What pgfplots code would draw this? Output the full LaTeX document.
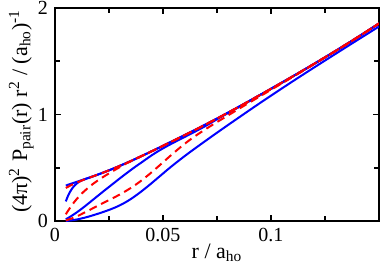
\documentclass[border=0pt]{standalone}
\usepackage{fontspec}
\setmainfont{Liberation Serif}
\usepackage{pgfplots}
\pgfplotsset{compat=1.18}
\definecolor{pblue}{RGB}{0,0,255}
\definecolor{pred}{RGB}{255,0,0}
\begin{document}
\begin{tikzpicture}
\begin{axis}[
  scale only axis, width=162pt, height=106.5pt,
  xmin=0, xmax=0.15, ymin=0, ymax=2,
  xtick={0,0.05,0.1}, xticklabels={0,0.05,0.1},
  minor xtick={0.025,0.075,0.125},
  ytick={0,1,2}, yticklabels={0,1,2},
  minor ytick={0.5,1.5},
  tick align=inside,
  major tick length=3pt, minor tick length=2.5pt,
  axis line style={line width=1pt},
  every tick/.style={line width=0.8pt, black},
  tick label style={font=\fontsize{10}{12}\selectfont},
  label style={font=\fontsize{11}{13}\selectfont},
  xlabel={r / a\textsubscript{ho}},
  xlabel style={at={(axis description cs:0.5,-0.1737)}, anchor=base},
  ylabel={(4π)\textsuperscript{2} P\textsubscript{pair}(r) r\textsuperscript{2} / (a\textsubscript{ho})\textsuperscript{-1}},
  ylabel style={at={(axis description cs:-0.0864,0.516)}, anchor=base, rotate=0},
  every axis plot/.append style={line width=1pt},
]
% blue solid curves
\addplot[pblue, smooth] coordinates {(0.005,0.333) (0.010,0.367) (0.015,0.401) (0.020,0.437) (0.025,0.476) (0.030,0.518) (0.035,0.562) (0.040,0.609) (0.045,0.657) (0.050,0.706) (0.055,0.756) (0.060,0.806) (0.065,0.857) (0.070,0.909) (0.075,0.962) (0.080,1.016) (0.085,1.071) (0.090,1.127) (0.095,1.184) (0.100,1.241) (0.110,1.357) (0.120,1.476) (0.130,1.598) (0.140,1.724) (0.150,1.855)};
\addplot[pblue, smooth] coordinates {(0.005,0.184) (0.006,0.235) (0.007,0.275) (0.008,0.307) (0.009,0.332) (0.010,0.351) (0.011,0.366) (0.012,0.378) (0.013,0.387) (0.015,0.401) (0.020,0.437) (0.025,0.476) (0.030,0.518) (0.035,0.562) (0.040,0.609) (0.045,0.657) (0.050,0.706) (0.055,0.756) (0.060,0.806) (0.065,0.857) (0.070,0.909) (0.075,0.962) (0.080,1.016) (0.085,1.071) (0.090,1.127) (0.095,1.184) (0.100,1.241) (0.110,1.357) (0.120,1.476) (0.130,1.598) (0.140,1.724) (0.150,1.855)};
\addplot[pblue, smooth] coordinates {(0.005,0.016) (0.0075,0.046) (0.010,0.080) (0.0125,0.117) (0.015,0.157) (0.0175,0.198) (0.020,0.239) (0.0225,0.280) (0.025,0.320) (0.0275,0.360) (0.030,0.400) (0.0325,0.439) (0.035,0.477) (0.0375,0.514) (0.040,0.549) (0.0425,0.585) (0.045,0.620) (0.0475,0.652) (0.050,0.682) (0.0525,0.710) (0.055,0.737) (0.0575,0.763) (0.060,0.789) (0.065,0.841) (0.070,0.896) (0.075,0.955) (0.080,1.013) (0.085,1.069) (0.090,1.127) (0.095,1.184) (0.100,1.241) (0.110,1.357) (0.120,1.476) (0.130,1.598) (0.140,1.724) (0.150,1.855)};
\addplot[pblue, smooth] coordinates {(0.005,0.000) (0.0075,0.006) (0.010,0.014) (0.0125,0.025) (0.015,0.038) (0.0175,0.053) (0.020,0.069) (0.0225,0.086) (0.025,0.104) (0.0275,0.124) (0.030,0.147) (0.0325,0.174) (0.035,0.205) (0.0375,0.240) (0.040,0.278) (0.0425,0.318) (0.045,0.360) (0.0475,0.403) (0.050,0.446) (0.0525,0.489) (0.055,0.530) (0.0575,0.570) (0.060,0.609) (0.0625,0.647) (0.065,0.684) (0.070,0.757) (0.075,0.829) (0.080,0.900) (0.085,0.970) (0.090,1.040) (0.095,1.109) (0.100,1.177) (0.110,1.311) (0.120,1.442) (0.130,1.571) (0.140,1.699) (0.150,1.826)};
% red dashed curves
\addplot[pred, smooth, dash pattern=on 4pt off 2.5pt] coordinates {(0.005,0.310) (0.0075,0.337) (0.010,0.359) (0.0125,0.381) (0.015,0.400) (0.020,0.437) (0.025,0.476) (0.030,0.518) (0.035,0.562) (0.040,0.609) (0.045,0.657) (0.050,0.706) (0.055,0.756) (0.060,0.806) (0.065,0.857) (0.070,0.909) (0.075,0.962) (0.080,1.016) (0.085,1.071) (0.090,1.127) (0.095,1.184) (0.100,1.241) (0.110,1.357) (0.120,1.476) (0.130,1.598) (0.140,1.724) (0.150,1.855)};
\addplot[pred, smooth, dash pattern=on 4pt off 2.5pt] coordinates {(0.005,0.063) (0.0075,0.140) (0.010,0.205) (0.0125,0.260) (0.015,0.306) (0.0175,0.347) (0.020,0.383) (0.0225,0.416) (0.025,0.447) (0.0275,0.477) (0.030,0.506) (0.0325,0.535) (0.035,0.560) (0.0375,0.585) (0.040,0.609) (0.045,0.657) (0.050,0.706) (0.055,0.756) (0.060,0.806) (0.065,0.857) (0.070,0.909) (0.075,0.962) (0.080,1.016) (0.085,1.071) (0.090,1.127) (0.095,1.184) (0.100,1.241) (0.110,1.357) (0.120,1.476) (0.130,1.598) (0.140,1.724) (0.150,1.855)};
\addplot[pred, smooth, dash pattern=on 4pt off 2.5pt] coordinates {(0.005,0.006) (0.0075,0.022) (0.010,0.042) (0.0125,0.067) (0.015,0.093) (0.0175,0.119) (0.020,0.145) (0.0225,0.171) (0.025,0.197) (0.0275,0.222) (0.030,0.249) (0.0325,0.278) (0.035,0.309) (0.0375,0.343) (0.040,0.380) (0.0425,0.420) (0.045,0.462) (0.0475,0.506) (0.050,0.551) (0.0525,0.596) (0.055,0.640) (0.0575,0.683) (0.060,0.724) (0.0625,0.763) (0.065,0.799) (0.070,0.866) (0.075,0.929) (0.080,0.990) (0.085,1.052) (0.090,1.112) (0.095,1.172) (0.100,1.232) (0.110,1.352) (0.120,1.474) (0.130,1.598) (0.140,1.724) (0.150,1.855)};
\end{axis}
\pgfresetboundingbox
\path (current axis.south west) ++(-27.5pt,-24.5pt) rectangle ++(191pt,135pt);
\end{tikzpicture}
\end{document}
